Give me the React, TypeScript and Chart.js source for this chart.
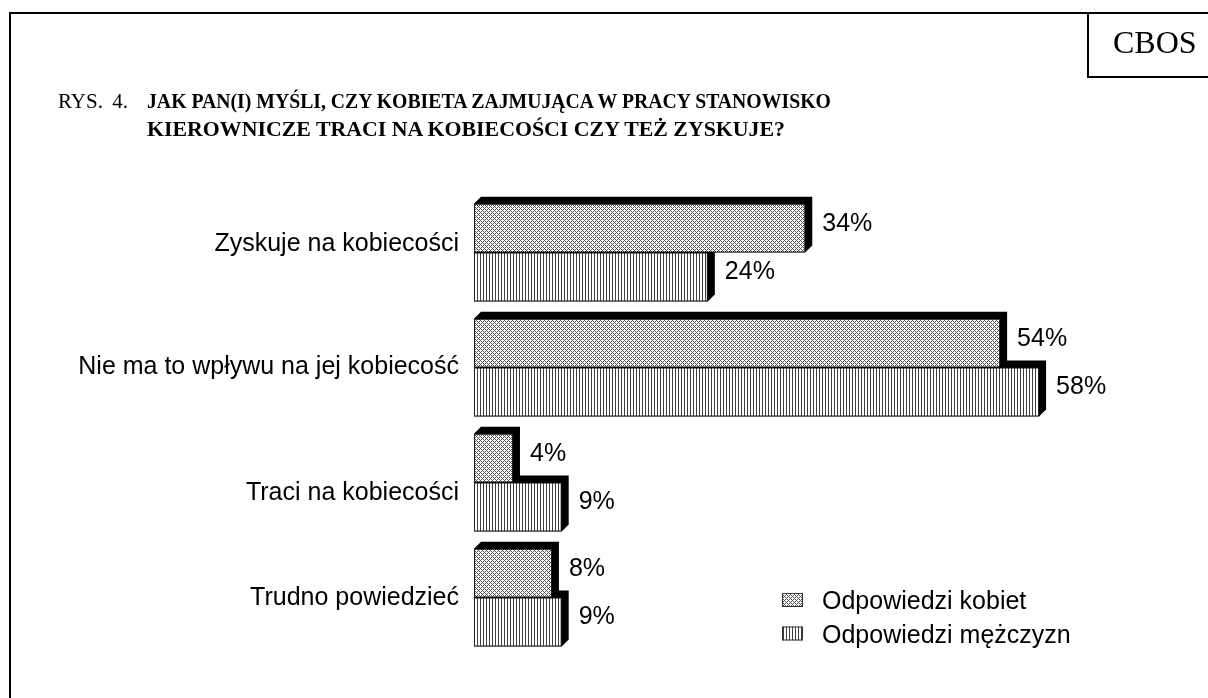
import { useEffect, useRef } from "react";
import { Chart, registerables } from "chart.js";

Chart.register(...registerables);

const categories = [
  "Zyskuje na kobiecości",
  "Nie ma to wpływu na jej kobiecość",
  "Traci na kobiecości",
  "Trudno powiedzieć",
];
const womenValues = [34, 54, 4, 8];
const menValues = [24, 58, 9, 9];
const seriesNames = ["Odpowiedzi kobiet", "Odpowiedzi mężczyzn"];
const titlePrefix = "RYS. 4.";
const titleLines = [
  "JAK PAN(I) MYŚLI, CZY KOBIETA ZAJMUJĄCA W PRACY STANOWISKO",
  "KIEROWNICZE TRACI NA KOBIECOŚCI CZY TEŻ ZYSKUJE?",
];
const sourceLabel = "CBOS";

const SANS = '"Liberation Sans", Arial, sans-serif';
const SERIF = '"Liberation Serif", "Times New Roman", serif';
const DEPTH = 7;
const LABEL_NUDGE = [-10.5, -2.5, 8.5, -2];
const TITLE_LINE_SCALE = [0.94, 1.04];

function crossPattern(ctx: CanvasRenderingContext2D): CanvasPattern {
  const c = document.createElement("canvas");
  c.width = 4;
  c.height = 4;
  const g = c.getContext("2d")!;
  g.fillStyle = "#ffffff";
  g.fillRect(0, 0, 4, 4);
  g.fillStyle = "#505050";
  for (let y = 0; y < 4; y++)
    for (let x = 0; x < 4; x++)
      if ((x + y) % 4 === 0 || (x - y + 4) % 4 === 0) g.fillRect(x, y, 1, 1);
  return ctx.createPattern(c, "repeat")!;
}

function stripePattern(ctx: CanvasRenderingContext2D): CanvasPattern {
  const c = document.createElement("canvas");
  c.width = 3;
  c.height = 3;
  const g = c.getContext("2d")!;
  g.fillStyle = "#ffffff";
  g.fillRect(0, 0, 3, 3);
  g.fillStyle = "#404040";
  g.fillRect(0, 0, 1, 3);
  return ctx.createPattern(c, "repeat")!;
}

const depthPlugin = {
  id: "depth3d",
  beforeDatasetsDraw(chart: any) {
    const ctx = chart.ctx;
    ctx.save();
    ctx.fillStyle = "#000";
    chart.data.datasets.forEach((_: any, di: number) => {
      const meta = chart.getDatasetMeta(di);
      meta.data.forEach((bar: any) => {
        const { x, y, base, height } = bar.getProps(["x", "y", "base", "height"], true);
        const top = y - height / 2;
        const bottom = y + height / 2;
        ctx.beginPath();
        ctx.moveTo(base, top);
        ctx.lineTo(base + DEPTH, top - DEPTH);
        ctx.lineTo(x + DEPTH, top - DEPTH);
        ctx.lineTo(x + DEPTH, bottom - DEPTH);
        ctx.lineTo(x, bottom);
        ctx.lineTo(base, bottom);
        ctx.closePath();
        ctx.fill();
      });
    });
    ctx.restore();
  },
  afterDatasetsDraw(chart: any) {
    const ctx = chart.ctx;
    ctx.save();
    ctx.fillStyle = "#000";
    ctx.font = `25px ${SANS}`;
    ctx.textBaseline = "alphabetic";
    // value labels
    ctx.textAlign = "left";
    chart.data.datasets.forEach((ds: any, di: number) => {
      const meta = chart.getDatasetMeta(di);
      meta.data.forEach((bar: any, i: number) => {
        const { x, y } = bar.getProps(["x", "y"], true);
        ctx.fillText(`${ds.data[i]}%`, x + DEPTH + 10, y + 2.5);
      });
    });
    // category labels
    const yScale = chart.scales.y;
    ctx.textAlign = "right";
    chart.data.labels.forEach((lab: string, i: number) => {
      const cy = yScale.getPixelForValue(i);
      ctx.fillText(lab, chart.chartArea.left - 15, cy + (LABEL_NUDGE[i] || 0) + 9);
    });
    // legend
    ctx.textAlign = "left";
    chart.data.datasets.forEach((ds: any, di: number) => {
      const sy = 593 + di * 33.5;
      ctx.fillStyle = ds.backgroundColor;
      ctx.fillRect(782, sy, 21, 14);
      ctx.strokeStyle = "#333";
      ctx.lineWidth = 1;
      ctx.strokeRect(782.5, sy + 0.5, 20, 13);
      ctx.fillStyle = "#000";
      ctx.fillText(ds.label, 822, sy + 7 + 9);
    });
    ctx.restore();
  },
};

export default function App() {
  const ref = useRef<HTMLCanvasElement>(null);
  useEffect(() => {
    const canvas = ref.current!;
    const ctx = canvas.getContext("2d")!;
    const chart = new Chart(canvas, {
      type: "bar",
      data: {
        labels: categories,
        datasets: [
          {
            label: seriesNames[0],
            data: womenValues,
            backgroundColor: crossPattern(ctx) as any,
            borderColor: "#222",
            borderWidth: 1,
            borderSkipped: false,
            categoryPercentage: 0.85,
            barPercentage: 1,
          },
          {
            label: seriesNames[1],
            data: menValues,
            backgroundColor: stripePattern(ctx) as any,
            borderColor: "#222",
            borderWidth: 1,
            borderSkipped: false,
            categoryPercentage: 0.85,
            barPercentage: 1,
          },
        ],
      },
      options: {
        indexAxis: "y",
        responsive: false,
        maintainAspectRatio: false,
        animation: false,
        devicePixelRatio: 1,
        layout: { padding: { left: 0, top: 195, right: 52, bottom: 43 } },
        plugins: {
          legend: { display: false },
          tooltip: { enabled: false },
          title: { display: false },
        },
        scales: {
          x: { display: false, min: 0, max: 70 },
          y: {
            display: true,
            grid: { display: false },
            border: { display: false },
            ticks: { display: false },
            afterFit: (s: any) => {
              s.width = 474;
            },
          },
        },
      },
      plugins: [depthPlugin],
    } as any);
    return () => chart.destroy();
  }, []);

  return (
    <div
      style={{
        position: "absolute",
        left: 0,
        top: 0,
        width: 1208,
        height: 698,
        overflow: "hidden",
        background: "#fff",
      }}
    >
      <div
        style={{
          position: "absolute",
          left: 9,
          top: 12,
          width: 1400,
          height: 900,
          borderLeft: "2px solid #000",
          borderTop: "2px solid #000",
        }}
      />
      <div
        style={{
          position: "absolute",
          left: 1087,
          top: 12,
          width: 200,
          height: 66,
          boxSizing: "border-box",
          borderLeft: "2px solid #000",
          borderBottom: "2px solid #000",
        }}
      />
      <canvas
        ref={ref}
        width={1208}
        height={698}
        style={{ position: "absolute", left: 0, top: 0, width: 1208, height: 698 }}
      />
      <div
        style={{
          position: "absolute",
          left: 1113,
          top: 26,
          fontFamily: SERIF,
          fontSize: 32,
          lineHeight: "32px",
          whiteSpace: "nowrap",
        }}
      >
        {sourceLabel}
      </div>
      <div
        style={{
          position: "absolute",
          left: 58,
          top: 87,
          fontFamily: SERIF,
          fontSize: 21,
          lineHeight: "28px",
          wordSpacing: "4px",
          whiteSpace: "nowrap",
        }}
      >
        {titlePrefix}
      </div>
      <div
        style={{
          position: "absolute",
          left: 147,
          top: 87,
          fontFamily: SERIF,
          fontSize: 21,
          fontWeight: "bold",
          lineHeight: "28px",
          whiteSpace: "nowrap",
        }}
      >
        {titleLines.map((t, i) => (
          <div
            key={i}
            style={{
              transform: `scaleX(${TITLE_LINE_SCALE[i]})`,
              transformOrigin: "left center",
            }}
          >
            {t}
          </div>
        ))}
      </div>
    </div>
  );
}
